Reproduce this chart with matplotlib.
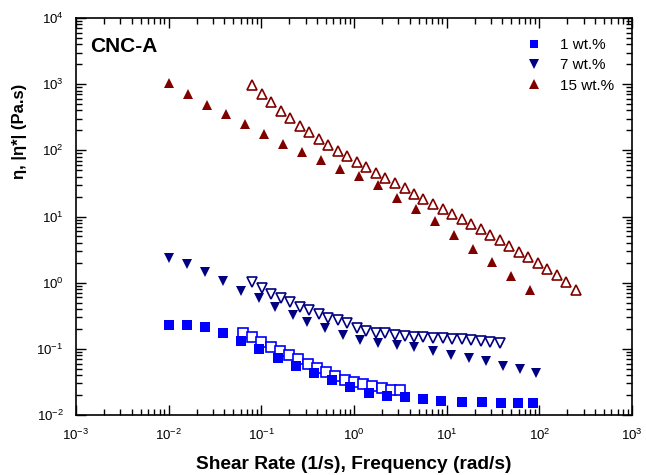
import numpy as np
import matplotlib
matplotlib.use('Agg')
import matplotlib.pyplot as plt
from matplotlib.ticker import LogLocator, LogFormatterSciNotation, NullFormatter

plt.rcParams['font.family'] = ['Liberation Sans', 'DejaVu Sans']
plt.rcParams['mathtext.fontset'] = 'custom'
plt.rcParams['mathtext.rm'] = 'Liberation Sans'
plt.rcParams['mathtext.it'] = 'Liberation Sans:italic'
plt.rcParams['mathtext.bf'] = 'Liberation Sans:bold'
plt.rcParams['axes.unicode_minus'] = False

# steady shear viscosity (filled) and complex viscosity (open)
rate_1 = [0.0101, 0.0158, 0.0248, 0.0389, 0.0604, 0.0951, 0.150, 0.235, 0.370, 0.580,
          0.912, 1.44, 2.26, 3.53, 5.51, 8.62, 14.8, 24.2, 38.5, 58.4, 86.0]
eta_1 = [0.229, 0.229, 0.216, 0.172, 0.130, 0.0993, 0.0719, 0.0551, 0.0435, 0.0334,
         0.0263, 0.0217, 0.0196, 0.0185, 0.0175, 0.0163, 0.0159, 0.0157, 0.0153, 0.0153, 0.0153]

freq_1 = [0.063, 0.079, 0.100, 0.126, 0.158, 0.200, 0.251, 0.316, 0.398, 0.501,
          0.631, 0.794, 1.00, 1.26, 1.58, 2.00, 2.51, 3.16]
etastar_1 = [0.175, 0.149, 0.128, 0.108, 0.0938, 0.0798, 0.0695, 0.0596, 0.0513, 0.0441,
             0.0385, 0.0338, 0.0312, 0.0291, 0.0272, 0.0254, 0.0241, 0.0239]

rate_7 = [0.0101, 0.0158, 0.0248, 0.0389, 0.0608, 0.0951, 0.140, 0.220, 0.308, 0.483,
          0.755, 1.17, 1.83, 2.88, 4.49, 7.07, 11.0, 17.4, 26.9, 40.3, 61.1, 92.0]
eta_7 = [2.38, 1.89, 1.45, 1.07, 0.76, 0.58, 0.434, 0.324, 0.257, 0.203,
         0.164, 0.134, 0.121, 0.113, 0.107, 0.094, 0.0815, 0.0735, 0.0655, 0.0556, 0.0501, 0.0427]

freq_15 = [0.0800, 0.101, 0.128, 0.163, 0.206, 0.261, 0.330, 0.418, 0.530, 0.670,
           0.849, 1.08, 1.36, 1.73, 2.18, 2.77, 3.51, 4.44, 5.62, 7.11,
           9.02, 11.4, 14.5, 18.3, 23.2, 29.4, 37.2, 47.1, 59.7, 75.5,
           95.7, 121, 154, 195, 246]
etastar_15 = [970, 703, 532, 389, 305, 236, 187, 148, 120, 98.7,
              81.3, 66.6, 55.4, 45.9, 38.2, 31.8, 26.7, 22.1, 18.6, 15.3,
              12.8, 10.8, 9.07, 7.62, 6.40, 5.31, 4.41, 3.58, 2.94, 2.42,
              1.98, 1.63, 1.29, 1.01, 0.78]

freq_7 = freq_15[:27]
etastar_7 = [1.035, 0.840, 0.681, 0.581, 0.505, 0.434, 0.382, 0.336, 0.295, 0.270,
             0.242, 0.208, 0.186, 0.175, 0.172, 0.162, 0.156, 0.152, 0.151, 0.147,
             0.144, 0.142, 0.139, 0.136, 0.133, 0.127, 0.121]

rate_15 = [0.0101, 0.0162, 0.0259, 0.0416, 0.0672, 0.108, 0.173, 0.277, 0.444, 0.706,
           1.13, 1.82, 2.91, 4.67, 7.48, 11.9, 19.1, 30.6, 49.1, 79.3]
eta_15 = [1030, 703, 479, 350, 250, 175, 125, 95.3, 71.4, 52.8,
          41.3, 29.9, 18.8, 13.0, 8.55, 5.25, 3.23, 2.03, 1.26, 0.77]

blue = '#0000ff'
navy = '#000080'
maroon = '#800000'

fig = plt.figure(figsize=(6.46, 4.75), dpi=100)
ax = fig.add_axes([76/646, 1 - 415/475, (632-76)/646, (415-18)/475])

ms = 7.3
# open symbols first, filled ones on top
ax.plot(freq_1, etastar_1, 's', mfc='white', mec=blue, ms=ms - 0.6, mew=1.2)
ax.plot(freq_7, etastar_7, 'v', mfc='white', mec=navy, ms=ms, mew=1.2)
ax.plot(freq_15, etastar_15, '^', mfc='white', mec=maroon, ms=ms, mew=1.2)

ax.plot(rate_1, eta_1, 's', color=blue, ms=ms, mew=0, label='1 wt.%')
ax.plot(rate_7, eta_7, 'v', color=navy, ms=ms + 0.6, mew=0, label='7 wt.%')
ax.plot(rate_15, eta_15, '^', color=maroon, ms=ms + 0.6, mew=0, label='15 wt.%')

ax.set_xscale('log')
ax.set_yscale('log')
ax.set_xlim(1e-3, 1e3)
ax.set_ylim(1e-2, 1e4)

for axis in (ax.xaxis, ax.yaxis):
    axis.set_major_locator(LogLocator(base=10, numticks=20))
    axis.set_minor_locator(LogLocator(base=10, subs=np.arange(2, 10), numticks=20))
    axis.set_major_formatter(LogFormatterSciNotation())
    axis.set_minor_formatter(NullFormatter())

ax.tick_params(which='both', direction='in', top=True, right=True, width=1.0)
ax.tick_params(which='major', length=7, labelsize=9.5)
ax.tick_params(which='minor', length=4)
ax.tick_params(axis='x', pad=9)
ax.tick_params(axis='y', pad=9)
for s in ax.spines.values():
    s.set_linewidth(1.2)

ax.set_xlabel('Shear Rate (1/s), Frequency (rad/s)', fontsize=13.8, fontweight='bold')
ax.xaxis.set_label_coords(0.5, -0.103)
fig.text(20/646, 1 - 131/475, 'η, |η*| (Pa.s)', rotation=90, fontsize=12,
         fontweight='bold', ha='center', va='center')

ax.text(90/646, 1 - 46/475, 'CNC-A', transform=fig.transFigure, fontsize=15,
        fontweight='bold', ha='left', va='center')

ax.legend(loc='upper left', bbox_to_anchor=(526/646, 1 - 38/475),
          bbox_transform=fig.transFigure, frameon=False, fontsize=11,
          handlelength=1.0, handletextpad=1.25, labelspacing=0.42,
          borderpad=0, borderaxespad=0, markerscale=0.85)

fig.savefig('out.png', dpi=100)
